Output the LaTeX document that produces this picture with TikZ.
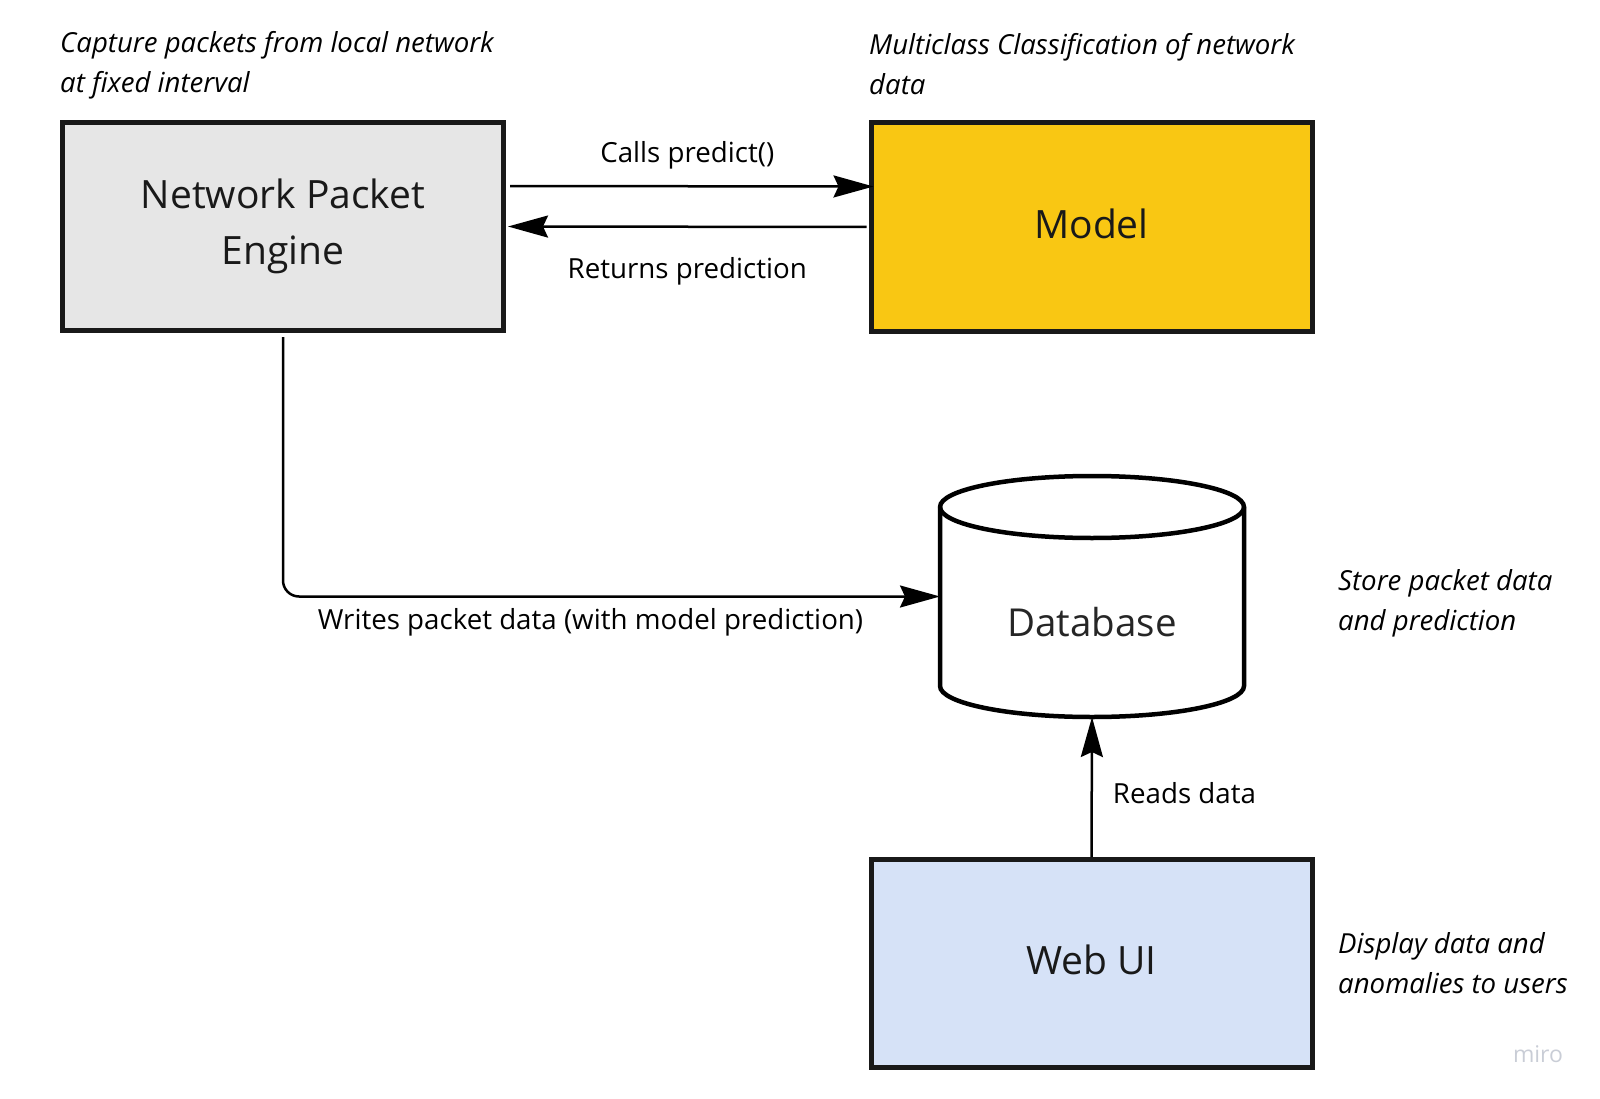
\documentclass[tikz,border=0pt]{standalone}
\usepackage{fontspec}
\setmainfont{Open Sans}
\usetikzlibrary{arrows.meta,positioning}

\definecolor{engineGray}{HTML}{E6E6E6}
\definecolor{modelYellow}{HTML}{F9C713}
\definecolor{webBlue}{HTML}{D6E2F7}
\definecolor{miroGray}{HTML}{C9CDD6}

\newcommand{\dbrx}{152pt}
\newcommand{\dbry}{31pt}

\tikzset{
    box/.style={draw=black!90, line width=5pt, minimum width=441pt, minimum height=208pt,
        align=center, text=black!90, font=\fontsize{39}{56}\selectfont},
    conn/.style={line width=2.5pt, -{Stealth[length=40pt,width=22pt,inset=5pt]}},
    lbl/.style={font=\fontsize{27.7}{38}\selectfont, inner sep=3pt},
    note/.style={font=\fontsize{27.6}{40}\selectfont\itshape, align=left, anchor=north west, inner sep=0pt},
}

\begin{document}
\begin{tikzpicture}[x=1pt, y=-1pt]

    \useasboundingbox (0,0) rectangle (1600,1099);

    % --- Boxes ---
    \node[box, fill=engineGray] (npe) at (283,226.5) {Network Packet\\Engine};
    \node[box, fill=modelYellow, text depth=7pt] (model) at (1091.5,227) {Model};
    \node[box, fill=webBlue, text depth=7pt] (web) at (1091.5,963.5) {Web UI};

    % --- Database cylinder ---
    \node[minimum width=304pt, minimum height=241pt, inner sep=0pt, outer sep=0pt] (db) at (1092,596.5) {};
    \draw[line width=4.5pt, fill=white]
        ([yshift=-\dbry]db.north west) -- ([yshift=\dbry]db.south west)
        arc[start angle=180, end angle=360, x radius=\dbrx, y radius=\dbry]
        -- ([yshift=-\dbry]db.north east)
        arc[start angle=0, end angle=180, x radius=\dbrx, y radius=\dbry] -- cycle;
    \draw[line width=4.5pt] ([yshift=-\dbry]db.north west)
        arc[start angle=180, end angle=360, x radius=\dbrx, y radius=\dbry];
    \node[text=black!85, font=\fontsize{38.5}{50}\selectfont] (dblabel) at (1092,622) {Database};

    % --- Side notes ---
    \node[note] (capnote) at (60,31) {Capture packets from local network\\at fixed interval};
    \node[note] (modelnote) at (869,33) {Multiclass Classification of network\\data};
    \node[note] (dbnote) at (1338,569.5) {Store packet data\\and prediction};
    \node[note] (webnote) at (1338,932.5) {Display data and\\anomalies to users};

    % --- Connectors ---
    \draw[conn, shorten <=4pt, shorten >=-5pt] ([yshift=40.5pt]npe.east) -- ([yshift=40.5pt]model.west)
        node[lbl, midway, above=13pt] (callslbl) {Calls predict()};
    \draw[conn, shorten <=2pt, shorten >=2pt] (model.west) -- (npe.east)
        node[lbl, midway, below=26pt] (returnslbl) {Returns prediction};
    \draw[conn, rounded corners=16pt, shorten <=4pt] (npe.south) |- (db.west)
        node[lbl, pos=0.734, below=8pt] (writeslbl) {Writes packet data (with model prediction)};
    \draw[conn] (web.north) -- (db.south)
        node[lbl, pos=0.457, right=17pt] (readslbl) {Reads data};

    % watermark
    \node[text=miroGray, font=\fontsize{23}{23}\selectfont] (miro) at (1538,1054) {miro};

\end{tikzpicture}
\end{document}
